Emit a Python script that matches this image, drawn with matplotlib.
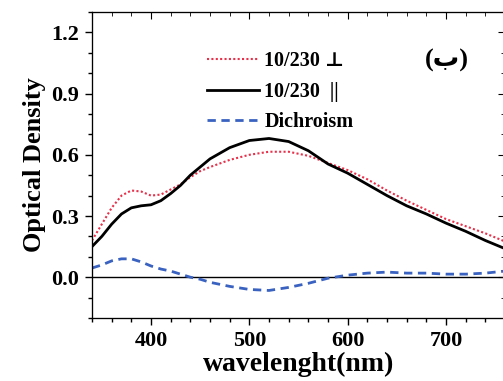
import matplotlib.pyplot as plt
from matplotlib.ticker import MultipleLocator, FormatStrFormatter

# wavelengths (nm) and optical densities
wavelength = [340, 350, 360, 370, 380, 390, 400, 410, 420, 430, 440, 450, 460,
              480, 500, 520, 540, 560, 580, 600, 620, 640, 660, 680, 700, 720,
              740, 760]
od_perp = [0.18, 0.26, 0.34, 0.40, 0.425, 0.42, 0.40, 0.405, 0.43, 0.455, 0.49,
           0.52, 0.54, 0.575, 0.60, 0.615, 0.615, 0.595, 0.56, 0.525, 0.48,
           0.425, 0.375, 0.33, 0.285, 0.25, 0.215, 0.175]
od_par = [0.15, 0.20, 0.26, 0.31, 0.34, 0.35, 0.355, 0.375, 0.41, 0.45, 0.50,
          0.54, 0.58, 0.635, 0.67, 0.68, 0.665, 0.62, 0.555, 0.51, 0.455, 0.40,
          0.35, 0.31, 0.265, 0.225, 0.18, 0.14]
dichroism = [0.045, 0.06, 0.08, 0.09, 0.09, 0.075, 0.055, 0.04, 0.03, 0.015,
             0.0, -0.01, -0.025, -0.045, -0.06, -0.065, -0.05, -0.03, -0.005,
             0.01, 0.02, 0.025, 0.02, 0.02, 0.015, 0.015, 0.02, 0.03]

labels = ['10/230 \u22a5', '10/230  ||', 'Dichroism']
serif = ['Liberation Serif', 'DejaVu Serif']

plt.rcParams['font.family'] = serif
plt.rcParams['font.weight'] = 'bold'

fig = plt.figure(figsize=(5.03, 3.81), dpi=100)
ax = fig.add_axes([92 / 503, 1 - 318 / 381, 413 / 503, 306 / 381])

ax.axhline(0, color='black', lw=1.0, zorder=1)
ax.plot(wavelength, od_perp, color='#e8304a', lw=1.5, ls=(0, (1, 1.1)), label=labels[0])
ax.plot(wavelength, od_par, color='black', lw=2.0, label=labels[1])
ax.plot(wavelength, dichroism, color='#3a62c0', lw=2.0, ls=(0, (3, 2)), label=labels[2])

ax.set_xlim(340, 760)
ax.set_ylim(-0.2, 1.3)


def set_ticks(a):
    a.xaxis.set_major_locator(MultipleLocator(100))
    a.xaxis.set_minor_locator(MultipleLocator(20))
    a.yaxis.set_major_locator(MultipleLocator(0.3))
    a.yaxis.set_minor_locator(MultipleLocator(0.1))


set_ticks(ax)
ax.yaxis.set_major_formatter(FormatStrFormatter('%.1f'))
ax.tick_params(which='major', direction='out', length=5, width=1, labelsize=16, pad=4)
ax.tick_params(which='minor', direction='out', length=3, width=1)

# top and right ticks point inward, no labels
top = ax.twiny()
right = ax.twinx()
top.set_xlim(ax.get_xlim())
right.set_ylim(ax.get_ylim())
set_ticks(top)
set_ticks(right)
top.tick_params(axis='x', which='major', direction='in', length=5, labeltop=False)
top.tick_params(axis='x', which='minor', direction='in', length=3)
right.tick_params(axis='y', which='major', direction='in', length=5, labelright=False)
right.tick_params(axis='y', which='minor', direction='in', length=3)

ax.set_xlabel('wavelenght(nm)', fontsize=20, fontweight='bold', labelpad=1)
ax.set_ylabel('Optical Density', fontsize=19, fontweight='bold', labelpad=4)

ax.legend(loc='upper left', bbox_to_anchor=(0.278, 0.872), frameon=False,
          borderaxespad=0, borderpad=0, handlelength=2.6, handletextpad=0.25,
          labelspacing=0.52, prop={'family': serif, 'weight': 'bold', 'size': 14.5})

ax.text(0.86, 0.842, '(\u0628)', transform=ax.transAxes, ha='center', va='center',
        fontsize=19, fontweight='bold', family=['Liberation Serif', 'DejaVu Sans'])

fig.savefig('out.png', dpi=100)
